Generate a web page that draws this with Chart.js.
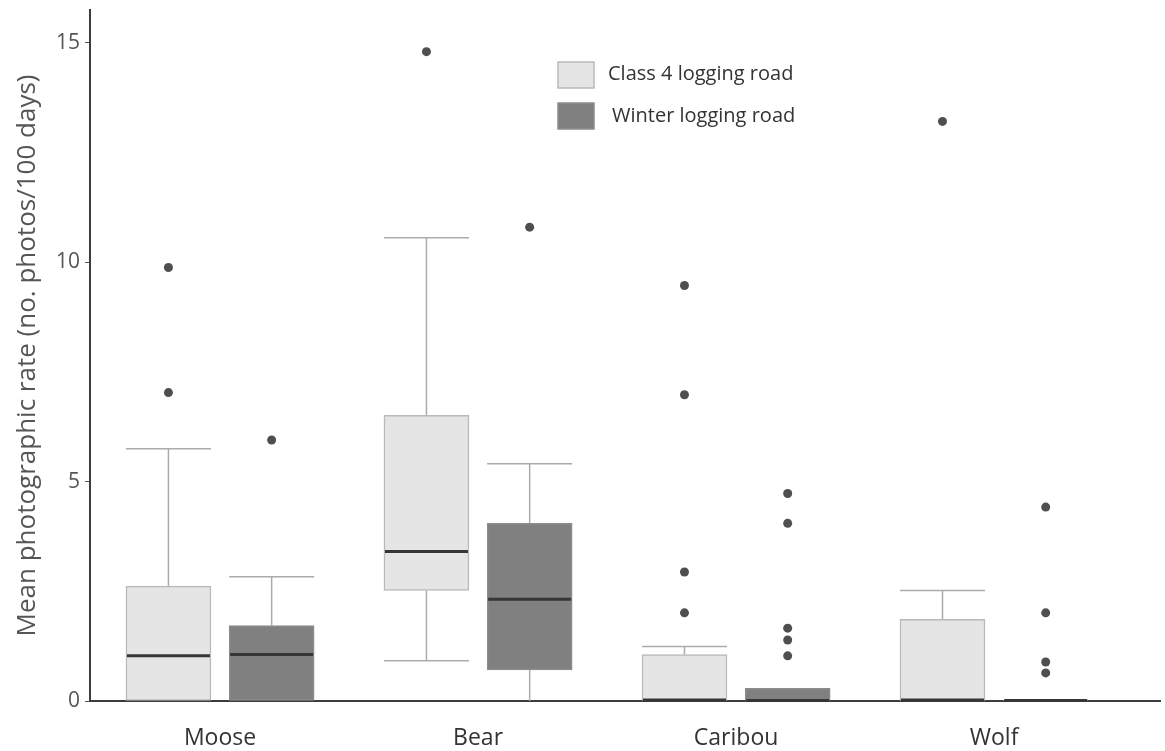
<!DOCTYPE html>
<html>
<head>
<meta charset="utf-8">
<script src="https://cdn.jsdelivr.net/npm/chart.js@4/dist/chart.umd.min.js"></script>
<style>
  html, body { margin: 0; padding: 0; background: #ffffff; }
  canvas { display: block; }
</style>
</head>
<body>
<canvas id="c" width="1165" height="751"></canvas>
<script>
// Species along the x axis
const categories = ['Moose', 'Bear', 'Caribou', 'Wolf'];
const seriesNames = ['Class 4 logging road', 'Winter logging road'];
const yTickValues = [0, 5, 10, 15];

// Class 4 logging road: box-plot summaries per species
const class4WhiskerLow  = [0, 0.92, 0, 0];
const class4Q1          = [0, 2.52, 0, 0];
const class4Median      = [1.03, 3.41, 0.02, 0.02];
const class4Q3          = [2.62, 6.51, 1.06, 1.86];
const class4WhiskerHigh = [5.75, 10.56, 1.24, 2.52];
const class4Outliers    = [[9.88, 7.03], [14.80], [9.47, 6.98, 2.94, 2.01], [13.21]];

// Winter logging road: box-plot summaries per species
const winterWhiskerLow  = [0, 0, 0, 0];
const winterQ1          = [0, 0.71, 0, 0];
const winterMedian      = [1.06, 2.32, 0.01, 0.01];
const winterQ3          = [1.72, 4.05, 0.29, 0.02];
const winterWhiskerHigh = [2.83, 5.41, 0.29, 0.02];
const winterOutliers    = [[5.95], [10.80], [4.73, 4.05, 1.66, 1.39, 1.03], [4.42, 2.01, 0.89, 0.64]];

const FONT = '"Open Sans", "Noto Sans", sans-serif';
const OFFSET = 0.2;           // horizontal shift of each series from the species position
const fills = ['#e6e5e6', '#808080'];
const borders = ['#b9b9b9', '#8c8c8c'];

const stats = [
  { lo: class4WhiskerLow, q1: class4Q1, med: class4Median, q3: class4Q3, hi: class4WhiskerHigh, out: class4Outliers },
  { lo: winterWhiskerLow, q1: winterQ1, med: winterMedian, q3: winterQ3, hi: winterWhiskerHigh, out: winterOutliers }
];

function boxData(s, off) {
  return categories.map((_, i) => ({ x: i + off, y: [s.q1[i], s.q3[i]] }));
}
function outlierData(s, off) {
  const pts = [];
  s.out.forEach((vals, i) => vals.forEach(v => pts.push({ x: i + off, y: v })));
  return pts;
}

// Whiskers (behind boxes) and medians (on top of boxes)
const boxPlotParts = {
  id: 'boxPlotParts',
  beforeDatasetsDraw(chart) {
    const ctx = chart.ctx, y = chart.scales.y;
    ctx.save();
    ctx.strokeStyle = '#ababab';
    ctx.lineWidth = 1.5;
    [0, 1].forEach(d => {
      const s = stats[d];
      chart.getDatasetMeta(d).data.forEach((bar, i) => {
        const half = bar.width / 2;
        const segs = [[s.q3[i], s.hi[i]], [s.q1[i], s.lo[i]]];
        segs.forEach(([from, to]) => {
          if (Math.abs(to - from) < 1e-9) return;
          const y0 = y.getPixelForValue(from), y1 = y.getPixelForValue(to);
          ctx.beginPath();
          ctx.moveTo(bar.x, y0);
          ctx.lineTo(bar.x, y1);
          if (to > 0) {
            ctx.moveTo(bar.x - half, y1);
            ctx.lineTo(bar.x + half, y1);
          }
          ctx.stroke();
        });
      });
    });
    ctx.restore();
  },
  afterDatasetsDraw(chart) {
    const ctx = chart.ctx, y = chart.scales.y;
    ctx.save();
    ctx.strokeStyle = '#363636';
    ctx.lineWidth = 3;
    [0, 1].forEach(d => {
      const s = stats[d];
      chart.getDatasetMeta(d).data.forEach((bar, i) => {
        const half = bar.width / 2;
        const py = y.getPixelForValue(s.med[i]);
        ctx.beginPath();
        ctx.moveTo(bar.x - half + 1, py);
        ctx.lineTo(bar.x + half - 1, py);
        ctx.stroke();
      });
    });
    ctx.restore();
  }
};

// Legend swatches with series names, inside the plot
const innerLegend = {
  id: 'innerLegend',
  afterDraw(chart) {
    const ctx = chart.ctx;
    ctx.save();
    ctx.font = '20px ' + FONT;
    ctx.textBaseline = 'middle';
    const rows = [{ top: 62, textX: 608, textY: 74 }, { top: 103, textX: 612, textY: 116 }];
    rows.forEach((r, k) => {
      ctx.fillStyle = fills[k];
      ctx.fillRect(558, r.top, 36, 26);
      ctx.strokeStyle = borders[k];
      ctx.lineWidth = 1.5;
      ctx.strokeRect(558, r.top, 36, 26);
      ctx.fillStyle = '#333333';
      ctx.fillText(seriesNames[k], r.textX, r.textY);
    });
    ctx.restore();
  }
};

new Chart(document.getElementById('c'), {
  type: 'bar',
  data: {
    datasets: [
      {
        label: seriesNames[0], data: boxData(stats[0], -OFFSET),
        backgroundColor: fills[0], borderColor: borders[0], borderWidth: 1.5,
        borderSkipped: false, barThickness: 85, grouped: false, order: 2
      },
      {
        label: seriesNames[1], data: boxData(stats[1], OFFSET),
        backgroundColor: fills[1], borderColor: borders[1], borderWidth: 1.5,
        borderSkipped: false, barThickness: 85, grouped: false, order: 2
      },
      {
        type: 'scatter', label: seriesNames[0] + ' outliers', data: outlierData(stats[0], -OFFSET),
        pointRadius: 4.5, pointBackgroundColor: '#4f4f4f', pointBorderWidth: 0, order: 1
      },
      {
        type: 'scatter', label: seriesNames[1] + ' outliers', data: outlierData(stats[1], OFFSET),
        pointRadius: 4.5, pointBackgroundColor: '#4f4f4f', pointBorderWidth: 0, order: 1
      }
    ]
  },
  options: {
    responsive: false,
    animation: false,
    layout: { padding: { top: 10, right: 5, bottom: 0, left: 0 } },
    plugins: { legend: { display: false }, tooltip: { enabled: false } },
    scales: {
      x: {
        type: 'linear',
        offset: false,
        min: -0.504, max: 3.643,
        afterBuildTicks: (scale) => { scale.ticks = categories.map((_, i) => ({ value: i })); },
        afterFit: (scale) => { scale.height = 50; scale.paddingLeft = 0; scale.paddingRight = 0; },
        grid: { display: false },
        border: { display: true, color: '#3c3c3c', width: 2 },
        ticks: {
          autoSkip: false, maxRotation: 0, padding: 16,
          color: '#333333', font: { family: FONT, size: 23 },
          callback: (v) => categories[v]
        }
      },
      y: {
        min: 0, max: 15.75,
        afterBuildTicks: (scale) => { scale.ticks = yTickValues.map(v => ({ value: v })); },
        afterFit: (scale) => { scale.width = 90; scale.paddingTop = 0; scale.paddingBottom = 0; },
        grid: { display: true, drawOnChartArea: false, drawTicks: true, tickLength: 5, color: '#555555' },
        border: { display: true, color: '#3c3c3c', width: 2 },
        ticks: { padding: 5, color: '#555555', font: { family: FONT, size: 21 } },
        title: {
          display: true, text: 'Mean photographic rate (no. photos/100 days)',
          color: '#555555', font: { family: FONT, size: 26 },
          padding: { top: 12, bottom: 0 }
        }
      }
    }
  },
  plugins: [boxPlotParts, innerLegend]
});
</script>
</body>
</html>
